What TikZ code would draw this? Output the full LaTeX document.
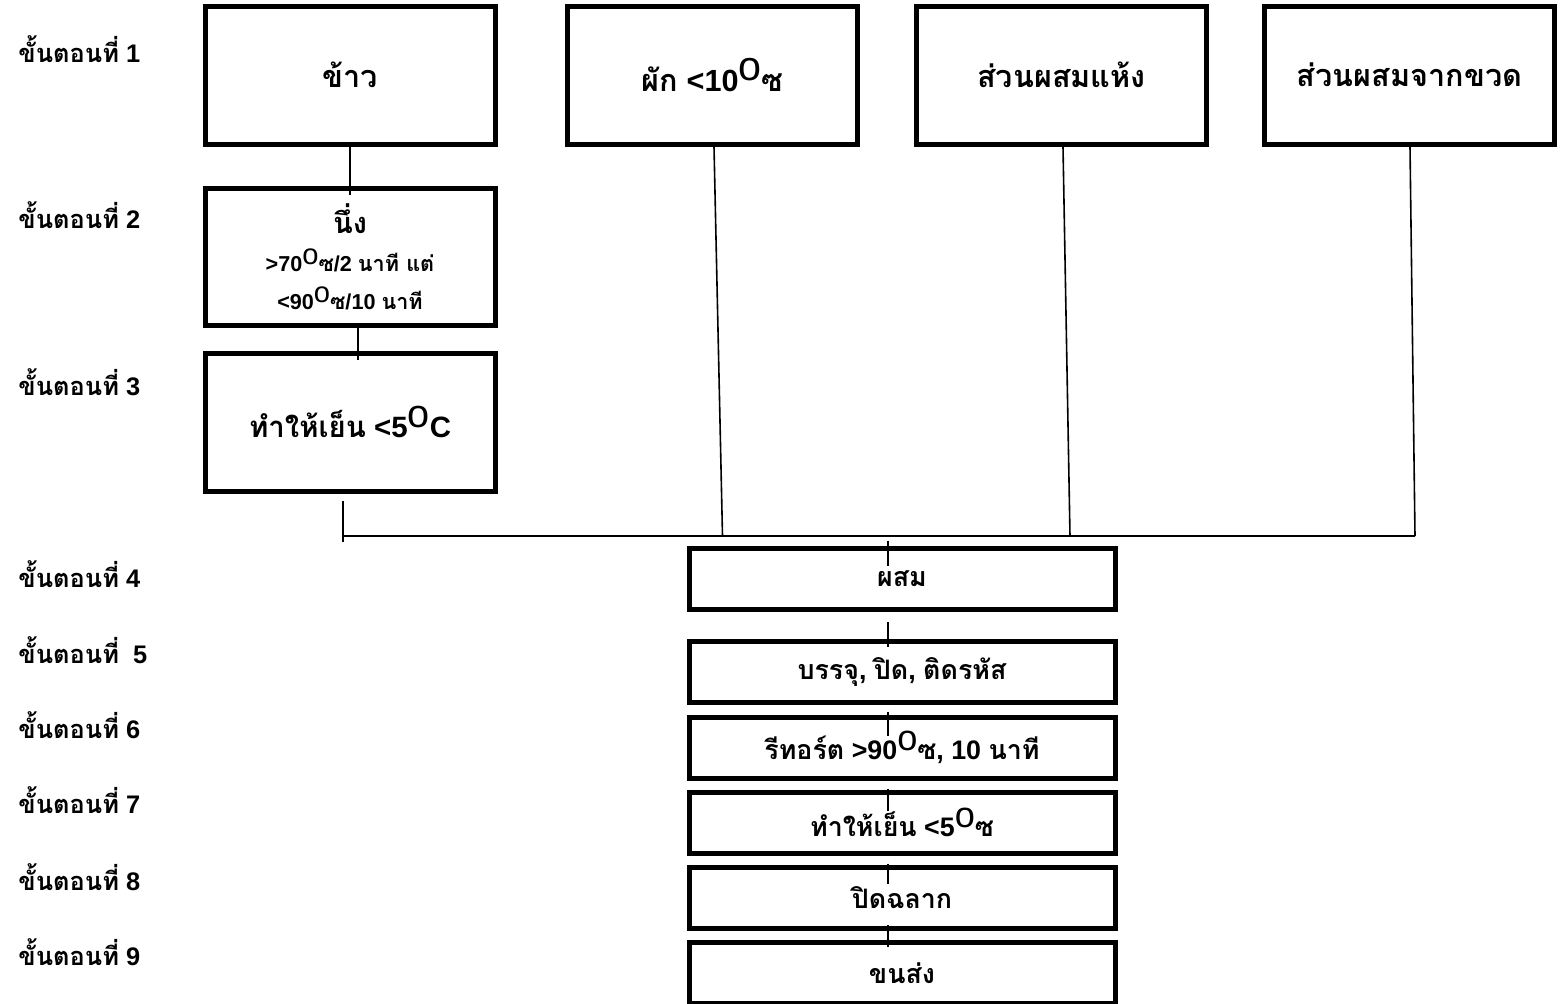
\documentclass[tikz,border=0pt]{standalone}
\usepackage{fontspec}
\setmainfont{Liberation Sans}
\newfontfamily\thai[Script=Thai]{Loma}
\newcommand{\dg}{\raisebox{0.33em}{\mdseries\scalebox{1.35}{o}}}

\begin{document}
\begin{tikzpicture}[x=0.5pt,y=-0.5pt,
    box/.style={draw=black, line width=2.5pt, minimum width=145pt, minimum height=69pt,
      inner sep=0pt, align=center, font=\bfseries\fontsize{15.3}{17}\selectfont},
    stage/.style={draw=black, line width=2.5pt, minimum width=213pt, minimum height=30.5pt,
      inner sep=0pt, font=\bfseries\fontsize{13.4}{15}\selectfont},
    steplabel/.style={anchor=base west, inner sep=0pt, font=\bfseries\fontsize{12.7}{14}\selectfont},
    link/.style={line width=0.8pt}]
      \useasboundingbox (0,0) rectangle (1560,1003);

      % step names on the left
      \foreach \n/\y/\t in {1/62/1, 2/228/2, 3/395/3, 4/587/4, 5/663/{\ 5}, 6/738/6, 7/813/7, 8/890/8, 9/965/9}
        \node[steplabel] (step\n) at (18,\y) {{\thai ขั้นตอนที่} \t};

      % raw materials
      \node[box] (rice) at (350,75) {\thai ข้าว};
      \node[box] (veg) at (712.5,75) {{\thai ผัก} <10\dg{\thai ซ}};
      \node[box] (dry) at (1061.5,75) {\thai ส่วนผสมแห้ง};
      \node[box] (bottle) at (1409.5,75) {\thai ส่วนผสมจากขวด};

      \node[box, minimum height=68.5pt] (steam) at (350,256.5)
        {{\fontsize{14.5}{16}\selectfont\thai นึ่ง}\\[2pt]
         {\fontsize{10.8}{12}\selectfont >70\dg{\thai ซ}/2 {\thai นาที แต่}}\\[2pt]
         {\fontsize{10.8}{12}\selectfont <90\dg{\thai ซ}/10 {\thai นาที}}};
      \node[box, font=\bfseries\fontsize{14.7}{16}\selectfont] (cool) at (350,422) {{\thai ทำให้เย็น} <5\dg C};

      % process line
      \node[stage] (mix) at (902,579) {\thai ผสม};
      \node[stage] (pack) at (902,671.5) {{\thai บรรจุ}, {\thai ปิด}, {\thai ติดรหัส}};
      \node[stage] (retort) at (902,747.5) {{\thai รีทอร์ต} >90\dg{\thai ซ}, 10 {\thai นาที}};
      \node[stage] (chill) at (902,822.5) {{\thai ทำให้เย็น} <5\dg{\thai ซ}};
      \node[stage] (label) at (902,898) {\thai ปิดฉลาก};
      \node[stage] (ship) at (902,973) {\thai ขนส่ง};

      % connectors
      \coordinate (busL) at (343,536);
      \coordinate (busR) at (1415,536);
      \draw[link] (rice.south) -- ([yshift=-4.5pt]steam.north);
      \draw[link] ([xshift=4pt]steam.south) -- ([xshift=4pt,yshift=-4.5pt]cool.north);
      \draw[link] ([xshift=-3.5pt,yshift=-3.5pt]cool.south) -- ([yshift=-3pt]busL);
      \draw[link] (busL) -- (busR);
      \draw[link] ([xshift=0.75pt]veg.south) -- ([xshift=5pt]veg.south |- busL);
      \draw[link] ([xshift=0.75pt]dry.south) -- ([xshift=4.25pt]dry.south |- busL);
      \draw[link] ([xshift=0.25pt]bottle.south) -- (busR);
      \draw[link] ([xshift=-7pt,yshift=2.75pt]mix.north) -- ([xshift=-7pt,yshift=-9.75pt]mix.north);
      \foreach \a/\b/\s/\e in {mix/pack/5/4, pack/retort/3.5/10.5, retort/chill/4/10.5, chill/label/4/9.5, label/ship/-3/3.5}
        \draw[link] ([xshift=-7pt,yshift=-\s pt]\a.south) -- ([xshift=-7pt,yshift=-\e pt]\b.north);
\end{tikzpicture}
\end{document}
